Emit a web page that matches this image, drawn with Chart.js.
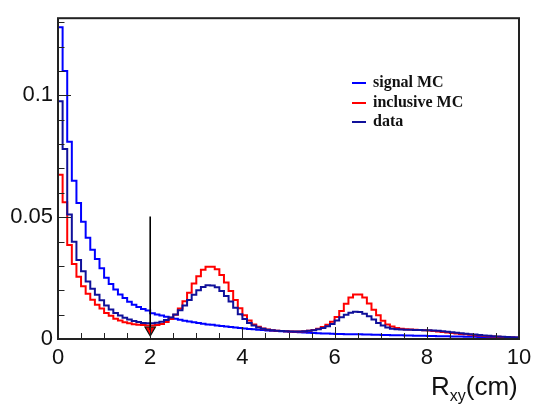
<!DOCTYPE html>
<html lang="en">
<head>
<meta charset="UTF-8">
<title>Rxy distribution</title>
<script src="https://cdn.jsdelivr.net/npm/chart.js@4.4.0/dist/chart.umd.min.js"></script>
<style>
  body { margin: 0; background: #fff; }
  #wrap { position: relative; width: 534px; height: 406px; }
  .legend { position: absolute; left: 352px; top: 72px; font: bold 16px "Liberation Serif", serif; color: #111; }
  .legend div { height: 19.5px; line-height: 19.5px; white-space: nowrap; }
  .legend span.swatch { display: inline-block; width: 14px; height: 2px; vertical-align: middle; margin-right: 7px; }
  .xtitle { position: absolute; left: 431px; top: 371px; font: 26px "Liberation Sans", Arial, sans-serif; color: #111; }
  .xtitle sub { font-size: 16px; }
</style>
</head>
<body>
<div id="wrap">
  <canvas id="rxyChart" width="534" height="406"></canvas>
  <div class="legend">
    <div><span class="swatch" style="background:#0000ff"></span>signal MC</div>
    <div><span class="swatch" style="background:#ff0000"></span>inclusive MC</div>
    <div><span class="swatch" style="background:#10109a"></span>data</div>
  </div>
  <div class="xtitle">R<sub>xy</sub>(cm)</div>
</div>

<script>
// histogram contents, 100 bins of 0.1 cm from 0 to 10
const binWidth = 0.1;

const signalMC = [
  0.128, 0.110, 0.081, 0.065, 0.0558, 0.0481, 0.0416, 0.0366, 0.0328, 0.0290,
  0.0251, 0.0226, 0.0203, 0.0183, 0.0168, 0.0153, 0.0141, 0.0131, 0.0123, 0.0117,
  0.0106, 0.0101, 0.0096, 0.0091, 0.0087, 0.0083, 0.0079, 0.0075, 0.0072, 0.0069,
  0.0066, 0.0063, 0.0060, 0.0058, 0.0055, 0.0053, 0.0051, 0.0049, 0.0047, 0.0045,
  0.0043, 0.0041, 0.0040, 0.0038, 0.0037, 0.0035, 0.0034, 0.0033, 0.0032, 0.0031,
  0.0030, 0.0029, 0.0028, 0.0027, 0.0026, 0.0025, 0.0024, 0.0023, 0.0023, 0.0022,
  0.0021, 0.0021, 0.0020, 0.0020, 0.0019, 0.0019, 0.0018, 0.0018, 0.0017, 0.0017,
  0.0016, 0.0016, 0.0015, 0.0015, 0.0015, 0.0014, 0.0014, 0.0013, 0.0013, 0.0013,
  0.0012, 0.0012, 0.0011, 0.0011, 0.0011, 0.0010, 0.0010, 0.0010, 0.0009, 0.0009,
  0.0009, 0.0008, 0.0008, 0.0008, 0.0007, 0.0007, 0.0007, 0.0006, 0.0006, 0.0006
];

const inclusiveMC = [
  0.0674, 0.0561, 0.0386, 0.0308, 0.0256, 0.0217, 0.0186, 0.0161, 0.0141, 0.0125,
  0.0107, 0.0095, 0.0083, 0.0076, 0.0069, 0.0065, 0.0061, 0.0058, 0.0057, 0.0055,
  0.0055, 0.0057, 0.0062, 0.0070, 0.0082, 0.0100, 0.0125, 0.0155, 0.0190, 0.0228,
  0.0258, 0.0284, 0.0297, 0.0297, 0.0286, 0.0263, 0.0232, 0.0197, 0.0160, 0.0126,
  0.0098, 0.0076, 0.0060, 0.0050, 0.0043, 0.0039, 0.0036, 0.0034, 0.0033, 0.0032,
  0.0031, 0.0031, 0.0031, 0.0032, 0.0034, 0.0037, 0.0042, 0.0049, 0.0058, 0.0071,
  0.0090, 0.0115, 0.0145, 0.0170, 0.0183, 0.0183, 0.0170, 0.0146, 0.0120, 0.0097,
  0.0075, 0.0060, 0.0051, 0.0045, 0.0042, 0.0040, 0.0039, 0.0038, 0.0037, 0.0036,
  0.0035, 0.0033, 0.0031, 0.0029, 0.0027, 0.0025, 0.0023, 0.0021, 0.0019, 0.0017,
  0.0015, 0.0014, 0.0012, 0.0011, 0.0010, 0.0009, 0.0008, 0.0007, 0.0006, 0.0005
];

const dataHist = [
  0.0976, 0.0780, 0.0511, 0.0399, 0.0324, 0.0278, 0.0236, 0.0206, 0.0182, 0.0159,
  0.0138, 0.0121, 0.0107, 0.0096, 0.0087, 0.0080, 0.0074, 0.0070, 0.0066, 0.0065,
  0.0065, 0.0067, 0.0071, 0.0078, 0.0088, 0.0101, 0.0118, 0.0138, 0.0160, 0.0182,
  0.0200, 0.0213, 0.0221, 0.0220, 0.0212, 0.0197, 0.0177, 0.0154, 0.0128, 0.0102,
  0.0082, 0.0066, 0.0055, 0.0047, 0.0042, 0.0038, 0.0036, 0.0034, 0.0033, 0.0032,
  0.0031, 0.0031, 0.0031, 0.0032, 0.0034, 0.0036, 0.0040, 0.0045, 0.0052, 0.0062,
  0.0076, 0.0089, 0.0100, 0.0108, 0.0112, 0.0111, 0.0104, 0.0093, 0.0080, 0.0066,
  0.0055, 0.0047, 0.0042, 0.0040, 0.0039, 0.0038, 0.0038, 0.0037, 0.0037, 0.0036,
  0.0036, 0.0035, 0.0034, 0.0032, 0.0030, 0.0028, 0.0026, 0.0024, 0.0022, 0.0020,
  0.0018, 0.0016, 0.0014, 0.0013, 0.0011, 0.0010, 0.0009, 0.0008, 0.0007, 0.0006
];

// cut arrow at Rxy = 2 cm
const cutValue = 2;
const arrowTop = 0.0503;
const arrowHead = 0.0037;

const yTickLabels = { 0: '0', 0.05: '0.05', 0.1: '0.1' };

// turn bin contents into step points (left edge of each bin + closing edge)
function toSteps(values) {
  const pts = values.map((v, i) => ({ x: i * binWidth, y: v }));
  pts.push({ x: values.length * binWidth, y: values[values.length - 1] });
  return pts;
}

// ROOT-like frame with inward ticks
const rootFrame = {
  id: 'rootFrame',
  afterDatasetsDraw(chart) {
    const { ctx, chartArea: a, scales: { x, y } } = chart;
    ctx.save();
    ctx.strokeStyle = '#222';
    ctx.lineWidth = 1;
    ctx.beginPath();
    for (let i = 0; i <= 20; i++) {
      const px = Math.round(x.getPixelForValue(i * 0.5)) + 0.5;
      const len = i % 4 === 0 ? 12 : 6;
      ctx.moveTo(px, a.bottom);
      ctx.lineTo(px, a.bottom - len);
    }
    for (let i = 0; i <= 13; i++) {
      const py = Math.round(y.getPixelForValue(i * 0.01)) + 0.5;
      const len = i % 5 === 0 ? 13 : 6.5;
      ctx.moveTo(a.left, py);
      ctx.lineTo(a.left + len, py);
    }
    ctx.stroke();
    ctx.lineWidth = 2;
    ctx.strokeRect(a.left, a.top, a.right - a.left, a.bottom - a.top);
    ctx.restore();
  }
};

const ctx = document.getElementById('rxyChart').getContext('2d');

// 'before' keeps each bin's height until the next bin edge
const histLine = (label, values, color, order) => ({
  label: label,
  data: toSteps(values),
  borderColor: color,
  borderWidth: 2,
  stepped: 'before',
  pointRadius: 0,
  fill: false,
  order: order
});

new Chart(ctx, {
  type: 'line',
  data: {
    datasets: [
      histLine('signal MC', signalMC, '#0000ff', 3),
      histLine('inclusive MC', inclusiveMC, '#ff0000', 2),
      histLine('data', dataHist, '#10109a', 1),
      {
        label: 'cut',
        data: [{ x: cutValue, y: arrowTop }, { x: cutValue, y: arrowHead }],
        borderColor: '#000',
        borderWidth: 1.6,
        pointRadius: 0,
        order: 0
      },
      {
        label: 'cut head',
        data: [{ x: cutValue, y: arrowHead }],
        showLine: false,
        pointStyle: 'triangle',
        rotation: 180,
        pointRadius: 6,
        backgroundColor: '#ff0000',
        borderColor: '#111',
        borderWidth: 1.2,
        order: 0
      }
    ]
  },
  options: {
    responsive: false,
    animation: false,
    layout: { padding: { top: 15, right: 15, left: 0, bottom: 0 } },
    plugins: { legend: { display: false }, tooltip: { enabled: false } },
    scales: {
      x: {
        type: 'linear',
        min: 0,
        max: 10,
        grid: { display: false, drawTicks: false },
        border: { display: false },
        ticks: {
          stepSize: 2,
          padding: 6,
          color: '#111',
          maxRotation: 0,
          font: { family: 'Liberation Sans', size: 22 }
        },
        afterFit: (s) => { s.height = 67; s.paddingLeft = 0; s.paddingRight = 0; }
      },
      y: {
        min: 0,
        max: 0.1317,
        grid: { display: false, drawTicks: false },
        border: { display: false },
        ticks: {
          stepSize: 0.05,
          includeBounds: false,
          padding: 5,
          color: '#111',
          font: { family: 'Liberation Sans', size: 22 },
          callback: (v) => {
            const k = Math.round(v * 100) / 100;
            return yTickLabels[k] !== undefined ? yTickLabels[k] : '';
          }
        },
        afterFit: (s) => { s.width = 58; }
      }
    }
  },
  plugins: [rootFrame]
});
</script>
</body>
</html>
